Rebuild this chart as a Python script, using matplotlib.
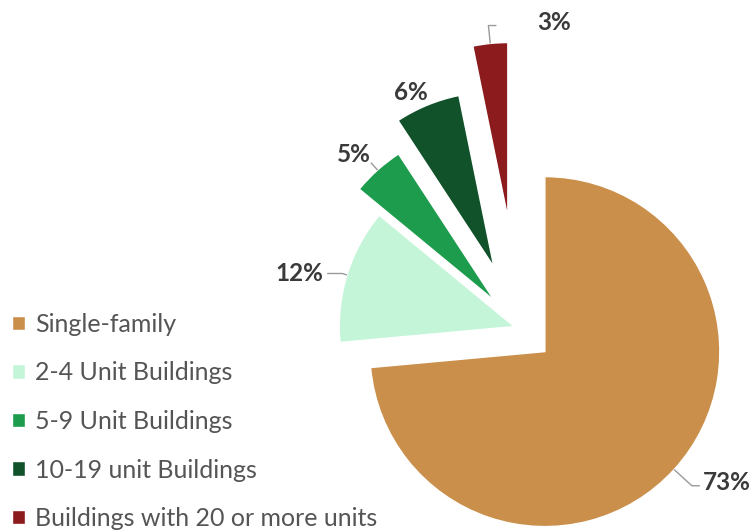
import math

import matplotlib
matplotlib.use("Agg")
import matplotlib.pyplot as plt

# ----------------------------- Data ------------------------------------------

CATEGORIES = [
    "Single-family",
    "2-4 Unit Buildings",
    "5-9 Unit Buildings",
    "10-19 unit Buildings",
    "Buildings with 20 or more units",
]
SHARES = [73.4, 12.4, 4.8, 6.0, 3.2]

# ----------------------------- Style -----------------------------------------

COLORS = ["#CB8F4C", "#C5F5D9", "#1C9C4C", "#11522A", "#8B1B1D"]
FONT = "Lato"

# the axes is laid out in pixel units (y up), so these are pixels
CENTER = (519, 203)
RADIUS = 175
EXPLODE = [35, 5, 37, 66, 111]

# per label: distance of elbow out from the arc, horizontal tail,
# text offset from end of connector, text alignment
LABEL_STYLE = [
    (24, 8, (3, 3), "left"),
    (5, -15, (-4, 0), "right"),
    (10, 0, (0, 8), "right"),
    (0, 0, (0, 13), "right"),
    (18, 8, (41, 3), "left"),
]


def main():
    fig = plt.figure(figsize=(7.51, 5.31), dpi=100)
    ax = fig.add_axes([0, 0, 1, 1])

    wedges, _ = ax.pie(
        SHARES,
        colors=COLORS,
        explode=EXPLODE,
        radius=RADIUS,
        center=CENTER,
        startangle=90,
        counterclock=False,
        wedgeprops=dict(edgecolor="white", linewidth=1),
        frame=True,
    )
    ax.set_xlim(0, 751)
    ax.set_ylim(0, 531)
    ax.set_aspect("equal")
    ax.axis("off")

    for w, share, (elbow, tail, (tdx, tdy), ha) in zip(wedges, SHARES, LABEL_STYLE):
        mid = math.radians(0.5 * (w.theta1 + w.theta2))
        ux, uy = math.cos(mid), math.sin(mid)
        cx, cy = w.center
        ax_x, ax_y = cx + w.r * ux, cy + w.r * uy
        ex, ey = ax_x + elbow * ux, ax_y + elbow * uy
        end_x = ex + tail
        if elbow or tail:
            ax.plot([ax_x, ex, end_x], [ax_y, ey, ey], color="#9a9a9a", lw=1.0,
                    solid_capstyle="butt")
        ax.text(end_x + tdx, ey + tdy, f"{share:.0f}%", ha=ha, va="center",
                fontsize=17.5, fontweight="bold", color="#3a3a3a", family=FONT)

    leg = ax.legend(
        wedges, CATEGORIES,
        loc="upper left",
        bbox_to_anchor=(12 / 751, 1 - 313 / 531),
        frameon=False,
        borderpad=0,
        borderaxespad=0,
        handlelength=0.52,
        handleheight=0.52,
        handletextpad=0.4,
        labelspacing=1.02,
        prop={"family": FONT, "size": 18},
    )
    for t in leg.get_texts():
        t.set_color("#555555")

    fig.savefig("out.png", dpi=100)


if __name__ == "__main__":
    main()
